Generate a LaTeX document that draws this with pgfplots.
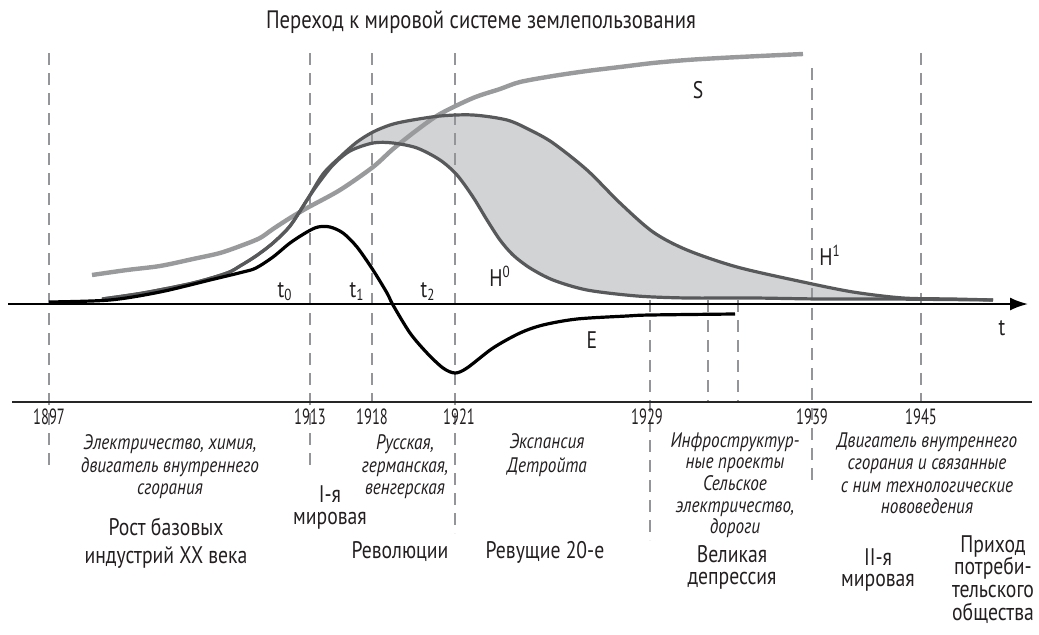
\documentclass[border=0pt]{standalone}
\usepackage{fontspec}
\setmainfont{PT Sans}[FakeStretch=0.82]
\newfontfamily\yrfont{PT Sans}[FakeStretch=0.66]
\usepackage{pgfplots}
\pgfplotsset{compat=1.18}
\usepgfplotslibrary{fillbetween}
\usetikzlibrary{arrows.meta}
\definecolor{sgray}{HTML}{999A9C}
\definecolor{hgray}{HTML}{58595B}
\definecolor{dgray}{HTML}{939598}
\definecolor{fgray}{HTML}{D1D3D4}
\definecolor{txt}{HTML}{231F20}
\begin{document}
\begin{tikzpicture}
\tikzset{
  big/.style={anchor=base, inner sep=0pt, text=txt, font=\fontsize{12}{14}\selectfont},
  ttl/.style={anchor=base, inner sep=0pt, text=txt, font=\fontsize{12.6}{14}\selectfont},
  ital/.style={anchor=base, inner sep=0pt, text=txt, font=\fontsize{10.5}{12}\selectfont\itshape},
  yr/.style={anchor=base, inner sep=0pt, text=txt, font=\fontsize{11}{12}\selectfont\yrfont},
  vdash/.style={dgray, line width=1.1pt, dash pattern=on 6pt off 4pt},
}
\begin{axis}[
  width=519.5pt, height=317pt, scale only axis,
  xmin=0, xmax=1039, ymin=0, ymax=634, y dir=reverse,
  axis lines=none, clip=false,
]
\path (rel axis cs:0,0) rectangle (rel axis cs:1,1);
% dashed verticals
\addplot[vdash] coordinates {(49,53) (49,470)};
\addplot[vdash] coordinates {(310,53) (310,467)};
\addplot[vdash] coordinates {(372,53) (372,402)};
\addplot[vdash] coordinates {(455,53) (455,533)};
\addplot[vdash] coordinates {(650,300) (650,540)};
\addplot[vdash] coordinates {(708,300) (708,402)};
\addplot[vdash] coordinates {(738,300) (738,403)};
\addplot[vdash] coordinates {(812,68) (812,482)};
\addplot[vdash] coordinates {(921,53) (921,402)};
% lower base line
\addplot[black!85, line width=0.75pt] coordinates {(12,402) (1032,402)};
% S curve
\addplot[sgray, line width=2.2pt, smooth, tension=0.5] coordinates {
(92,275) (127,270) (160,266) (193,259) (220,253) (243,245) (260,238) (273,229)
(290,218) (307,208) (340,190) (373,167) (393,149) (417,130) (440,114) (473,98)
(500,89) (520,82) (553,76) (587,71) (620,67) (653,63) (687,60) (720,58) (760,56) (803,54)};
% H upper
\addplot[name path=Hup, hgray, line width=1.6pt, smooth, tension=0.5] coordinates {
(102,299) (143,293) (193,283) (227,273) (240,266) (256,256) (273,243) (290,226)
(307,200) (323,174) (340,157) (357,142) (373,132) (390,125) (407,121) (440,116)
(473,115) (507,120) (530,130) (553,143) (587,170) (620,203) (653,232) (687,250)
(737,267) (803,282) (853,292) (903,298) (953,299) (993,300)};
% H lower
\addplot[name path=Hlow, hgray, line width=1.6pt, smooth, tension=0.5] coordinates {
(102,299) (143,293) (193,283) (227,273) (240,266) (256,256) (273,243) (290,226)
(307,200) (318,184) (333,165) (350,151) (373,143) (393,143) (417,148) (440,160)
(457,175) (473,197) (487,220) (500,240) (513,255) (530,268) (553,280) (587,290)
(637,296) (687,298) (753,298) (820,299) (887,299) (993,300)};
\addplot[fgray] fill between[of=Hup and Hlow];
% axis arrow
\addplot[black, line width=1pt, -{Latex[length=9pt,width=6.5pt]}] coordinates {(8,304) (1028,304)};
% E curve
\addplot[black, line width=1.6pt, smooth, tension=0.5] coordinates {
(49,302) (110,300) (160,292) (210,280) (243,272) (256,268) (273,257) (290,243)
(307,232) (318,227) (330,227) (343,233) (357,247) (373,270) (387,293) (393,305)
(410,333) (427,353) (443,368) (455,373) (467,368) (493,348) (520,333) (543,325)
(577,319) (627,316) (650,315) (735,314)};

% title
\node[ttl] at (axis cs:481,28) {Переход к мировой системе землепользования};
% curve labels
\node[big] at (axis cs:285,297) {t\textsubscript{0}};
\node[big] at (axis cs:357,297) {t\textsubscript{1}};
\node[big] at (axis cs:428,297) {t\textsubscript{2}};
\node[big] at (axis cs:500,286) {H\textsuperscript{0}};
\node[big] at (axis cs:698,98) {S};
\node[big] at (axis cs:830,265) {H\textsuperscript{1}};
\node[big] at (axis cs:592,348) {E};
\node[big] at (axis cs:1002,335) {t};
% years
\node[yr] at (axis cs:49,424) {1897};
\node[yr] at (axis cs:310,424) {1913};
\node[yr] at (axis cs:372,424) {1918};
\node[yr] at (axis cs:459,424) {1921};
\node[yr] at (axis cs:647,424) {1929};
\node[yr] at (axis cs:812,424) {1939};
\node[yr] at (axis cs:921,424) {1945};
% italic descriptions
\node[ital] at (axis cs:170,449) {Электричество, химия,};
\node[ital] at (axis cs:170,472) {двигатель внутреннего};
\node[ital] at (axis cs:170,494) {сгорания};
\node[ital] at (axis cs:405,449) {Русская,};
\node[ital] at (axis cs:405,472) {германская,};
\node[ital] at (axis cs:405,494) {венгерская};
\node[ital] at (axis cs:547,448) {Экспансия};
\node[ital] at (axis cs:547,472) {Детройта};
\node[ital] at (axis cs:735,447) {Инфроструктур-};
\node[ital] at (axis cs:735,468) {ные проекты};
\node[ital] at (axis cs:735,490) {Сельское};
\node[ital] at (axis cs:735,512) {электричество,};
\node[ital] at (axis cs:735,533) {дороги};
\node[ital] at (axis cs:927,447) {Двигатель внутреннего};
\node[ital] at (axis cs:927,469) {сгорания и связанные};
\node[ital] at (axis cs:927,492) {с ним технологические};
\node[ital] at (axis cs:927,513) {нововедения};
% big labels
\node[big] at (axis cs:166,535) {Рост базовых};
\node[big] at (axis cs:166,563) {индустрий XX века};
\node[big] at (axis cs:330,502) {I-я};
\node[big] at (axis cs:330,524) {мировая};
\node[big] at (axis cs:400,558) {Революции};
\node[big] at (axis cs:545,558) {Ревущие 20-е};
\node[big] at (axis cs:732,562) {Великая};
\node[big] at (axis cs:732,584) {депрессия};
\node[big] at (axis cs:878,565) {II-я};
\node[big] at (axis cs:878,586) {мировая};
\node[big] at (axis cs:993,552) {Приход};
\node[big] at (axis cs:993,574) {потреби-};
\node[big] at (axis cs:993,597) {тельского};
\node[big] at (axis cs:993,620) {общества};
\end{axis}
\end{tikzpicture}
\end{document}
